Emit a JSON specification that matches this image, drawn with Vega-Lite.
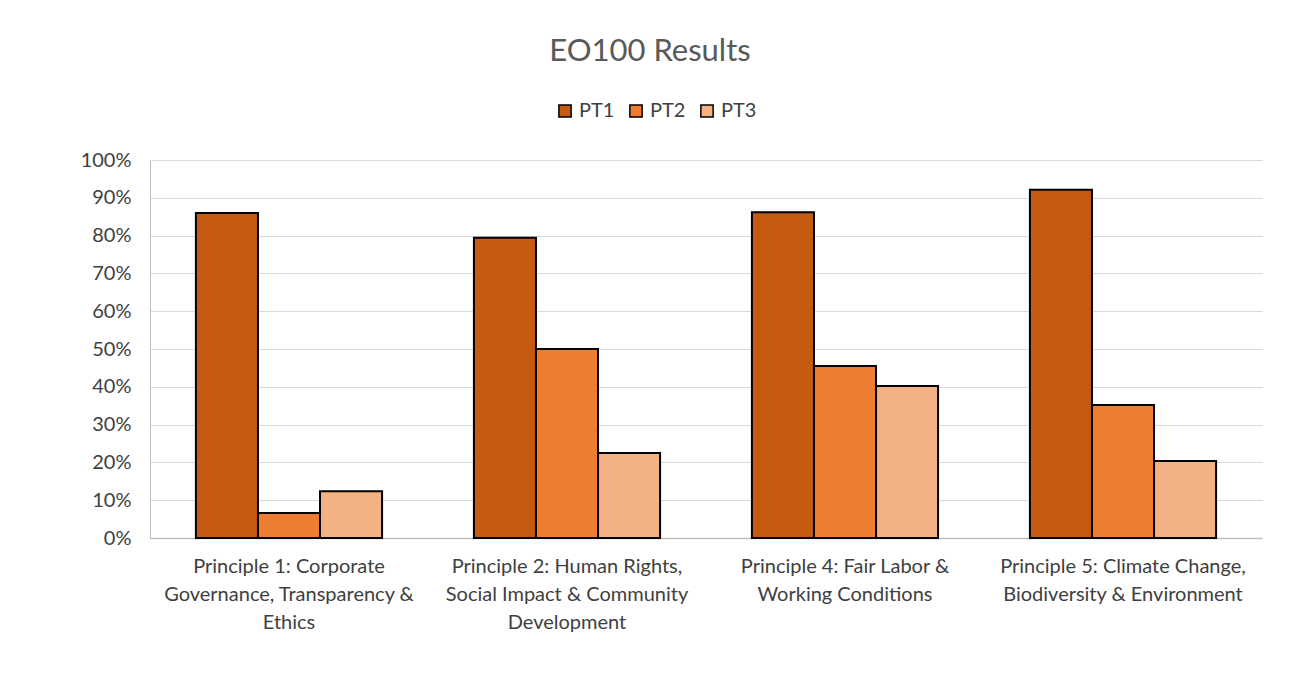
{
  "$schema": "https://vega.github.io/schema/vega-lite/v6.json",
  "autosize": "none",
  "width": 1112,
  "height": 378,
  "padding": {"left": 150, "top": 160, "right": 27, "bottom": 161},
  "background": "white",
  "title": {
    "text": "EO100 Results",
    "font": "Lato",
    "fontSize": 31,
    "fontWeight": "normal",
    "color": "#595959",
    "anchor": "middle",
    "dx": -56,
    "offset": 33
  },
  "data": {
    "values": [
      {"principle": "Principle 1: Corporate|Governance, Transparency &|Ethics", "series": "PT1", "value": 0.86},
      {"principle": "Principle 1: Corporate|Governance, Transparency &|Ethics", "series": "PT2", "value": 0.066},
      {"principle": "Principle 1: Corporate|Governance, Transparency &|Ethics", "series": "PT3", "value": 0.124},
      {"principle": "Principle 2: Human Rights,|Social Impact & Community|Development", "series": "PT1", "value": 0.794},
      {"principle": "Principle 2: Human Rights,|Social Impact & Community|Development", "series": "PT2", "value": 0.50},
      {"principle": "Principle 2: Human Rights,|Social Impact & Community|Development", "series": "PT3", "value": 0.225},
      {"principle": "Principle 4: Fair Labor &|Working Conditions", "series": "PT1", "value": 0.862},
      {"principle": "Principle 4: Fair Labor &|Working Conditions", "series": "PT2", "value": 0.455},
      {"principle": "Principle 4: Fair Labor &|Working Conditions", "series": "PT3", "value": 0.402},
      {"principle": "Principle 5: Climate Change,|Biodiversity & Environment", "series": "PT1", "value": 0.921},
      {"principle": "Principle 5: Climate Change,|Biodiversity & Environment", "series": "PT2", "value": 0.352},
      {"principle": "Principle 5: Climate Change,|Biodiversity & Environment", "series": "PT3", "value": 0.204}
    ]
  },
  "mark": {"type": "bar", "stroke": "black", "strokeWidth": 2},
  "encoding": {
    "x": {
      "field": "principle",
      "type": "nominal",
      "sort": null,
      "scale": {"paddingInner": 0, "paddingOuter": 0},
      "axis": {
        "title": null,
        "labelAngle": 0,
        "labelExpr": "split(datum.label, '|')",
        "labelFont": "Lato",
        "labelFontSize": 20,
        "labelColor": "#404040",
        "labelLineHeight": 28,
        "labelPadding": 18,
        "labelBaseline": "top",
        "ticks": false,
        "domainColor": "#bfbfbf",
        "domainWidth": 1.5,
        "grid": false,
        "labelLimit": 400
      }
    },
    "xOffset": {
      "field": "series",
      "type": "nominal",
      "scale": {"paddingInner": 0, "paddingOuter": 0.74}
    },
    "y": {
      "field": "value",
      "type": "quantitative",
      "scale": {"domain": [0, 1]},
      "axis": {
        "title": null,
        "format": ".0%",
        "values": [0, 0.1, 0.2, 0.3, 0.4, 0.5, 0.6, 0.7, 0.8, 0.9, 1],
        "labelFont": "Lato",
        "labelFontSize": 20,
        "labelColor": "#404040",
        "labelPadding": 19,
        "ticks": false,
        "domain": true,
        "domainColor": "#bfbfbf",
        "domainWidth": 1,
        "gridColor": "#d9d9d9",
        "gridWidth": 1
      }
    },
    "color": {
      "field": "series",
      "type": "nominal",
      "scale": {"domain": ["PT1", "PT2", "PT3"], "range": ["#C55A11", "#ED7D31", "#F4B183"]},
      "legend": {
        "title": null,
        "orient": "none",
        "direction": "horizontal",
        "legendX": 405,
        "legendY": -59,
        "symbolType": "square",
        "symbolSize": 150,
        "symbolStrokeColor": "black",
        "symbolStrokeWidth": 1.5,
        "labelFont": "Lato",
        "labelFontSize": 20,
        "labelColor": "#404040",
        "columnPadding": 11,
        "labelOffset": 4
      }
    }
  },
  "config": {"view": {"stroke": null}}
}
